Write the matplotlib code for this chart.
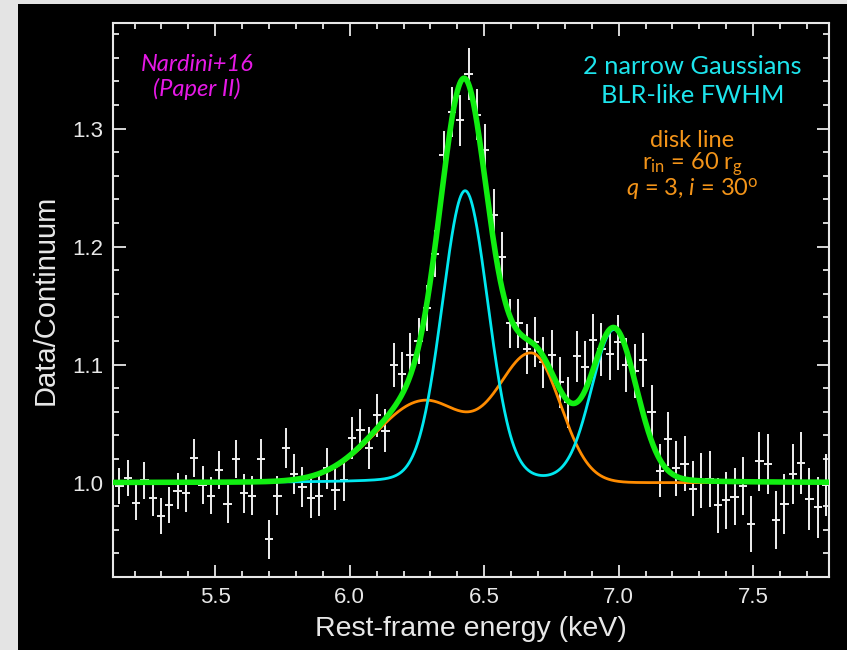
import numpy as np
import matplotlib
matplotlib.use('Agg')
import matplotlib.pyplot as plt
from matplotlib.patches import Rectangle
from matplotlib.ticker import MultipleLocator, FormatStrFormatter

plt.rcParams['font.family'] = ['Liberation Sans', 'DejaVu Sans']
plt.rcParams['mathtext.fontset'] = 'custom'
plt.rcParams['mathtext.rm'] = 'Lato'
plt.rcParams['mathtext.it'] = 'Lato:italic'

# binned spectrum, ratio to continuum (keV)
energy = [5.144, 5.175, 5.206, 5.237, 5.268, 5.299, 5.329, 5.360, 5.391, 5.422,
          5.453, 5.484, 5.515, 5.546, 5.577, 5.608, 5.638, 5.669, 5.700, 5.731,
          5.762, 5.793, 5.824, 5.855, 5.886, 5.917, 5.947, 5.978, 6.009, 6.040,
          6.071, 6.102, 6.133, 6.164, 6.195, 6.226, 6.256, 6.287, 6.318, 6.349,
          6.380, 6.411, 6.442, 6.473, 6.504, 6.535, 6.565, 6.596, 6.627, 6.658,
          6.689, 6.720, 6.751, 6.782, 6.813, 6.844, 6.874, 6.905, 6.936, 6.967,
          6.998, 7.029, 7.060, 7.091, 7.122, 7.153, 7.183, 7.214, 7.245, 7.276,
          7.307, 7.338, 7.369, 7.400, 7.431, 7.462, 7.492, 7.523, 7.554, 7.585,
          7.616, 7.647, 7.678, 7.709, 7.740, 7.770]
ratio = [0.997, 1.004, 0.983, 1.002, 0.987, 0.972, 0.981, 0.993, 0.991, 1.021,
         0.998, 0.989, 1.011, 0.982, 1.020, 0.991, 0.989, 1.020, 0.952, 0.989,
         1.029, 1.007, 0.996, 0.987, 0.989, 1.012, 0.994, 1.002, 1.038, 1.045,
         1.029, 1.057, 1.044, 1.100, 1.092, 1.108, 1.120, 1.148, 1.194, 1.278,
         1.314, 1.307, 1.346, 1.312, 1.282, 1.227, 1.191, 1.135, 1.135, 1.113,
         1.119, 1.102, 1.108, 1.085, 1.068, 1.107, 1.098, 1.121, 1.113, 1.109,
         1.119, 1.100, 1.095, 1.104, 1.060, 1.010, 1.037, 1.012, 1.016, 0.995,
         1.002, 1.003, 0.981, 0.985, 0.988, 0.997, 0.965, 1.018, 1.016, 0.968,
         0.982, 1.007, 1.017, 0.986, 0.979, 0.998]
ratio_err = [0.0150, 0.0155, 0.0150, 0.0155, 0.0152, 0.0152, 0.0153, 0.0155, 0.0155, 0.0160,
             0.0160, 0.0160, 0.0160, 0.0160, 0.0164, 0.0164, 0.0165, 0.0168, 0.0164, 0.0167,
             0.0170, 0.0170, 0.0170, 0.0168, 0.0172, 0.0174, 0.0172, 0.0172, 0.0176, 0.0176,
             0.0178, 0.0184, 0.0184, 0.0186, 0.0186, 0.0192, 0.0193, 0.0195, 0.0197, 0.0200,
             0.0212, 0.0218, 0.0220, 0.0219, 0.0219, 0.0219, 0.0212, 0.0208, 0.0208, 0.0212,
             0.0212, 0.0216, 0.0215, 0.0214, 0.0214, 0.0216, 0.0219, 0.0223, 0.0223, 0.0222,
             0.0233, 0.0230, 0.0229, 0.0230, 0.0226, 0.0226, 0.0228, 0.0230, 0.0233, 0.0233,
             0.0233, 0.0235, 0.0233, 0.0240, 0.0240, 0.0246, 0.0240, 0.0250, 0.0254, 0.0246,
             0.0254, 0.0254, 0.0263, 0.0263, 0.0258, 0.0260]

# model components (keV): two narrow Gaussians, disk line horns, extra core
narrow_centres = [6.429, 6.983]
narrow_sigmas = [0.086, 0.085]
narrow_amps = [0.247, 0.129]
disk_centres = [6.275, 6.68]
disk_sig_lo = [0.18, 0.13]
disk_sig_hi = [0.16, 0.105]
disk_amps = [0.069, 0.107]
core_centre = 6.40
core_sigma = 0.09
core_amp = 0.037


def pvoigt(e, centre, sigma, amp, eta=0.1):
    hwhm = sigma * np.sqrt(2 * np.log(2))
    gauss = np.exp(-0.5 * ((e - centre) / sigma) ** 2)
    lor = 1.0 / (1.0 + ((e - centre) / hwhm) ** 2)
    return amp * ((1 - eta) * gauss + eta * lor)


def split_gauss(e, centre, sig_lo, sig_hi, amp):
    sig = np.where(e < centre, sig_lo, sig_hi)
    return amp * np.exp(-0.5 * ((e - centre) / sig) ** 2)


energy = np.array(energy)
ratio = np.array(ratio)
half_bin = np.gradient(energy) / 2

e_grid = np.linspace(5.12, 7.78, 1200)
narrow = sum(pvoigt(e_grid, c, s, a) for c, s, a in
             zip(narrow_centres, narrow_sigmas, narrow_amps))
disk = sum(split_gauss(e_grid, c, lo, hi, a) for c, lo, hi, a in
           zip(disk_centres, disk_sig_lo, disk_sig_hi, disk_amps))
core = core_amp * np.exp(-0.5 * ((e_grid - core_centre) / core_sigma) ** 2)

fig = plt.figure(figsize=(8.47, 6.5), dpi=100, facecolor='#e4e4e4')
fig.add_artist(Rectangle((18 / 847, 0), 1, 1 - 3.5 / 650, transform=fig.transFigure,
                         facecolor='black', edgecolor='none', zorder=0))

ax = fig.add_axes([113 / 847, 1 - 577 / 650, 715.5 / 847, 554.5 / 650])
ax.set_facecolor('black')

ax.errorbar(energy, ratio, yerr=ratio_err, xerr=half_bin, fmt='none',
            ecolor='#f0f0f0', elinewidth=1.4, capsize=0, zorder=2)
ax.plot(e_grid, 1 + disk, color='#ff8c00', lw=2.0, zorder=3)
ax.plot(e_grid, 1 + narrow, color='#00e8f0', lw=2.0, zorder=4)
ax.plot(e_grid, 1 + narrow + disk + core, color='#11ee11', lw=4.0, zorder=5)

ax.set_xlim(5.12, 7.78)
ax.set_ylim(0.92, 1.39)
ax.xaxis.set_major_locator(MultipleLocator(0.5))
ax.xaxis.set_minor_locator(MultipleLocator(0.1))
ax.yaxis.set_major_locator(MultipleLocator(0.1))
ax.yaxis.set_minor_locator(MultipleLocator(0.02))
ax.xaxis.set_major_formatter(FormatStrFormatter('%.1f'))
ax.yaxis.set_major_formatter(FormatStrFormatter('%.1f'))

for sp in ax.spines.values():
    sp.set_color('#e8e8e8')
    sp.set_linewidth(1.5)
ax.tick_params(which='both', direction='in', top=True, right=True,
               color='#e8e8e8', width=1.3, labelcolor='#e8e8e8', labelsize=16)
ax.tick_params(which='major', length=9)
ax.tick_params(which='minor', length=4.5)
ax.tick_params(axis='x', pad=7)
ax.tick_params(axis='y', pad=7)

ax.set_xlabel('Rest-frame energy (keV)', fontsize=20.5, color='#e8e8e8')
ax.set_ylabel('Data/Continuum', fontsize=21, color='#e8e8e8')
ax.xaxis.set_label_coords(0.5, -0.07)
ax.yaxis.set_label_coords(-0.074, 0.5)

ann = dict(transform=ax.transAxes, ha='center', va='center', family='Lato')
ax.text(0.1174, 0.925, 'Nardini+16', color='#e619e6', fontsize=17, style='italic', **ann)
ax.text(0.1174, 0.880, '(Paper II)', color='#e619e6', fontsize=17, style='italic', **ann)
ax.text(0.81, 0.9215, '2 narrow Gaussians', color='#1de4ec', fontsize=18.3, **ann)
ax.text(0.81, 0.8675, 'BLR-like FWHM', color='#1de4ec', fontsize=18.3, **ann)
ax.text(0.81, 0.787, 'disk line', color='#f39419', fontsize=17, **ann)
ax.text(0.81, 0.744, r'r$_{\mathrm{in}}$ = 60 r$_{\mathrm{g}}$', color='#f39419', fontsize=17, **ann)
ax.text(0.81, 0.699, r'$q$ = 3, $i$ = 30$^{\mathrm{o}}$', color='#f39419', fontsize=17, **ann)

fig.savefig('out.png', dpi=100, facecolor=fig.get_facecolor())
